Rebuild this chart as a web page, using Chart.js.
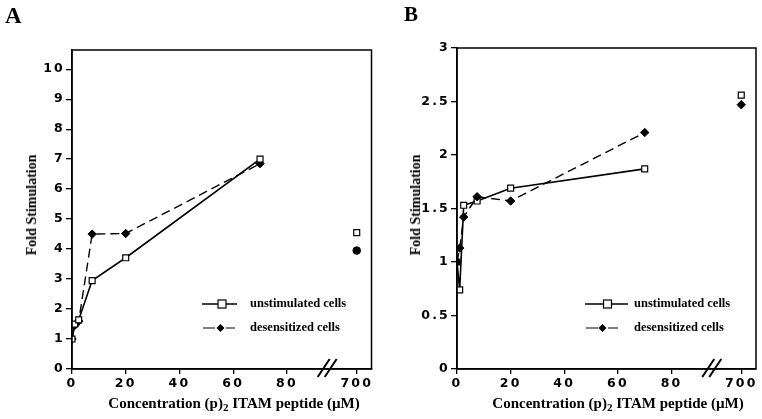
<!DOCTYPE html>
<html>
<head>
<meta charset="utf-8">
<script src="https://cdn.jsdelivr.net/npm/chart.js@4"></script>
<style>
  body { margin: 0; background: #fff; }
  #wrap { position: relative; width: 762px; height: 419px; overflow: hidden; background: #fff; }
  canvas { position: absolute; top: 0; }
  .lbl { position: absolute; font-family: "Liberation Serif", "Times New Roman", serif; font-weight: bold; color: #000; white-space: nowrap; line-height: 1; }
  .ytitle { font-size: 14px; transform: translate(-50%, -50%) rotate(-90deg); }
  .xtitle { font-size: 15px; transform: translateX(-50%); }
  .xtitle sub { font-size: 11px; vertical-align: -3px; }
</style>
</head>
<body>
<div id="wrap">
  <canvas id="chartA" width="381" height="419" style="left:0"></canvas>
  <canvas id="chartB" width="381" height="419" style="left:381px"></canvas>
  <div class="lbl" style="left:5px;top:4px;font-size:23px">A</div>
  <div class="lbl" style="left:404px;top:4px;font-size:21px">B</div>
  <div class="lbl ytitle" style="left:32px;top:205px">Fold Stimulation</div>
  <div class="lbl ytitle" style="left:416px;top:205px">Fold Stimulation</div>
  <div class="lbl xtitle" style="left:234px;top:396px">Concentration (p)<sub>2</sub> ITAM peptide (µM)</div>
  <div class="lbl xtitle" style="left:618px;top:396px">Concentration (p)<sub>2</sub> ITAM peptide (µM)</div>
</div>
<script>
// concentrations (µM) on the continuous part of the axis
const concA = [0, 1, 2.5, 7.5, 20, 70];
const unstimA = [1.0, 1.5, 1.64, 2.95, 3.71, 7.0];
const desensA = [1.0, 1.45, 1.6, 4.5, 4.52, 6.85];

const concB = [0, 1, 2.5, 7.5, 20, 70];
const unstimB = [1.0, 0.74, 1.53, 1.57, 1.69, 1.87];
const desensB = [1.0, 1.13, 1.42, 1.61, 1.57, 2.21];

// the lone points past the axis break
const highConc = [700];
const unstimHighA = [4.55];
const desensHighA = [3.95];
const unstimHighB = [2.56];
const desensHighB = [2.47];

const xTickLabels = [0, 20, 40, 60, 80, 700];
const yTicksA = [0, 1, 2, 3, 4, 5, 6, 7, 8, 9, 10];
const yTicksB = [0, 0.5, 1, 1.5, 2, 2.5, 3];

const legendLabels = ["unstimulated cells", "desensitized cells"];

// broken x axis: 700 is drawn just past the break
const BREAK_POS = 106;
const BREAK_MARK = 95;
const X_MAX = 111.5;

function axisX(v) {
  return v >= 700 ? BREAK_POS : v;
}

function pts(xs, ys) {
  return xs.map((x, i) => ({ x: axisX(x), y: ys[i] }));
}

const tickFont = { family: "'DejaVu Sans', sans-serif", weight: "bold", size: 12.5 };

function drawSquare(ctx, x, y) {
  ctx.fillStyle = "#fff";
  ctx.strokeStyle = "#000";
  ctx.lineWidth = 1.2;
  ctx.fillRect(x - 4, y - 4, 8, 8);
  ctx.strokeRect(x - 4, y - 4, 8, 8);
}

function drawDiamond(ctx, x, y) {
  ctx.fillStyle = "#000";
  ctx.beginPath();
  ctx.moveTo(x, y - 4);
  ctx.lineTo(x + 4, y);
  ctx.lineTo(x, y + 4);
  ctx.lineTo(x - 4, y);
  ctx.closePath();
  ctx.fill();
}

function makePanel(id, p) {
  const extras = {
    id: "extras",
    beforeDraw(chart) {
      chart.ctx.letterSpacing = "2.2px";
    },
    afterDraw(chart) {
      const ctx = chart.ctx;
      const a = chart.chartArea;
      const xs = chart.scales.x;
      ctx.save();
      ctx.letterSpacing = "0px";
      // frame
      ctx.strokeStyle = "#000";
      ctx.lineWidth = 1.5;
      ctx.strokeRect(a.left, a.top, a.right - a.left, a.bottom - a.top);
      // axis break
      const bx = xs.getPixelForValue(BREAK_MARK);
      ctx.lineWidth = 2;
      [-3.5, 3.5].forEach((o) => {
        ctx.beginPath();
        ctx.moveTo(bx + o - 6, a.bottom + 8);
        ctx.lineTo(bx + o + 6, a.bottom - 10);
        ctx.stroke();
      });
      // legend
      const L = p.legend;
      ctx.lineWidth = 1.5;
      ctx.strokeStyle = "#000";
      ctx.beginPath();
      ctx.moveTo(L.x1, L.y1);
      ctx.lineTo(L.x2, L.y1);
      ctx.stroke();
      drawSquare(ctx, L.sq, L.y1);
      ctx.beginPath();
      ctx.moveTo(L.d1[0], L.y2);
      ctx.lineTo(L.d1[1], L.y2);
      ctx.moveTo(L.d2[0], L.y2);
      ctx.lineTo(L.d2[1], L.y2);
      ctx.stroke();
      drawDiamond(ctx, L.dm, L.y2);
      ctx.fillStyle = "#000";
      ctx.font = "bold 12.5px 'Liberation Serif', serif";
      ctx.textBaseline = "middle";
      ctx.fillText(legendLabels[0], L.tx, L.y1);
      ctx.fillText(legendLabels[1], L.tx, L.y2);
      ctx.restore();
    },
  };

  const unstimSet = {
    data: pts(p.conc, p.unstim),
    showLine: true,
    borderColor: "#000",
    borderWidth: 1.6,
    pointStyle: "rect",
    pointRadius: 4.2,
    pointBackgroundColor: "#fff",
    pointBorderColor: "#000",
    pointBorderWidth: 1.2,
    order: p.unstimOnTop ? 0 : 1,
  };
  const desensSet = {
    data: pts(p.conc, p.desens),
    showLine: true,
    borderColor: "#000",
    borderWidth: 1.4,
    borderDash: [9, 5],
    pointStyle: "rectRot",
    pointRadius: 4.2,
    pointBackgroundColor: "#000",
    pointBorderColor: "#000",
    pointBorderWidth: 1,
    order: p.unstimOnTop ? 1 : 0,
  };
  const unstimHigh = {
    data: pts(highConc, p.unstimHigh),
    showLine: false,
    pointStyle: "rect",
    pointRadius: 4.2,
    pointBackgroundColor: "#fff",
    pointBorderColor: "#000",
    pointBorderWidth: 1.2,
  };
  const desensHigh = {
    data: pts(highConc, p.desensHigh),
    showLine: false,
    pointStyle: p.highStyle,
    pointRadius: p.highStyle === "circle" ? 3.8 : 4.2,
    pointBackgroundColor: "#000",
    pointBorderColor: "#000",
    pointBorderWidth: 1,
  };

  new Chart(document.getElementById(id), {
    type: "scatter",
    data: { datasets: [unstimSet, desensSet, unstimHigh, desensHigh] },
    options: {
      responsive: false,
      animation: false,
      layout: { padding: { top: p.top, right: p.right, left: 0, bottom: 0 } },
      plugins: { legend: { display: false }, tooltip: { enabled: false } },
      scales: {
        x: {
          type: "linear",
          min: 0,
          max: X_MAX,
          afterBuildTicks: (s) => {
            s.ticks = xTickLabels.map((v) => ({ value: axisX(v) }));
          },
          afterFit: (s) => {
            s.height = 50;
          },
          ticks: {
            color: "#000",
            font: tickFont,
            padding: 2,
            maxRotation: 0,
            autoSkip: false,
            callback: (v, i) => String(xTickLabels[i]),
          },
          grid: { drawOnChartArea: false, tickLength: 5, color: "#000", lineWidth: 1.3 },
          border: { color: "#000", width: 1.5 },
        },
        y: {
          min: 0,
          max: p.yMax,
          afterBuildTicks: (s) => {
            s.ticks = p.yTicks.map((v) => ({ value: v }));
          },
          afterFit: (s) => {
            s.width = p.left;
          },
          ticks: {
            color: "#000",
            font: tickFont,
            padding: 1,
            autoSkip: false,
            callback: (v) => String(v),
          },
          grid: { drawOnChartArea: false, tickLength: 6, color: "#000", lineWidth: 1.3 },
          border: { color: "#000", width: 1.5 },
        },
      },
    },
    plugins: [extras],
  });
}

makePanel("chartA", {
  conc: concA,
  unstim: unstimA,
  desens: desensA,
  unstimHigh: unstimHighA,
  desensHigh: desensHighA,
  highStyle: "circle",
  unstimOnTop: true,
  yTicks: yTicksA,
  yMax: 10.64,
  left: 72,
  top: 50,
  right: 9.5,
  legend: { x1: 202, x2: 237, sq: 222, y1: 304, y2: 328, d1: [203, 215], d2: [226, 235], dm: 220.5, tx: 250 },
});

makePanel("chartB", {
  conc: concB,
  unstim: unstimB,
  desens: desensB,
  unstimHigh: unstimHighB,
  desensHigh: desensHighB,
  highStyle: "rectRot",
  unstimOnTop: false,
  yTicks: yTicksB,
  yMax: 3,
  left: 76,
  top: 48,
  right: 6,
  legend: { x1: 204, x2: 247, sq: 226.5, y1: 304, y2: 328, d1: [205, 217], d2: [227, 237], dm: 221.5, tx: 253 },
});
</script>
</body>
</html>
